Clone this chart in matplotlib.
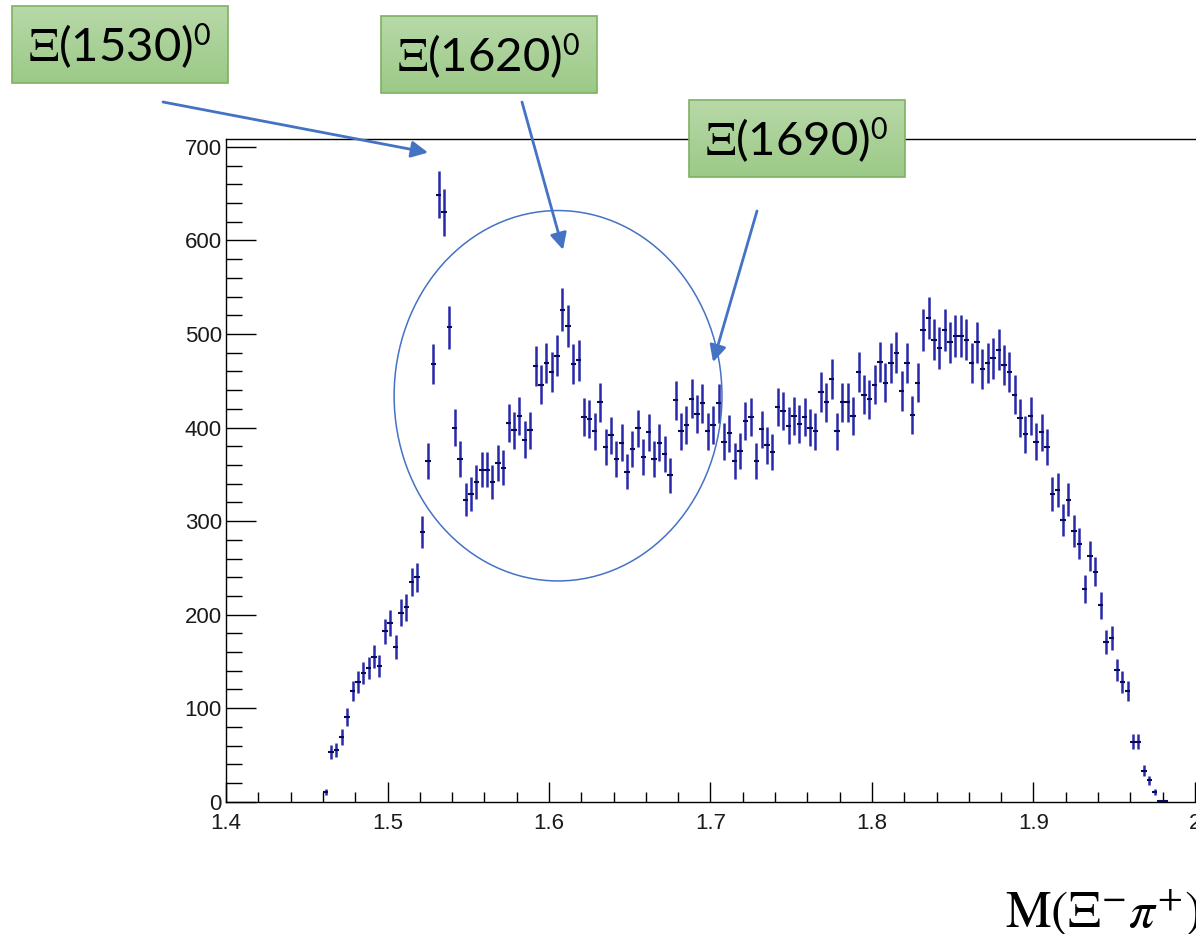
import numpy as np
import matplotlib
matplotlib.use('Agg')
import matplotlib.pyplot as plt
from matplotlib.patches import Rectangle, Ellipse

plt.rcParams['mathtext.fontset'] = 'stix'

# Xi- pi+ invariant mass, 180 bins from 1.4 to 2.0 GeV
mass_lo   = 1.4
mass_hi   = 2.0
n_bins    = 180
first_bin = 18

counts = [
    10, 53, 55, 69, 91, 118, 128, 138, 143, 155,
    145, 182, 191, 165, 202, 208, 235, 240, 288, 364,
    468, 649, 630, 507, 400, 366, 323, 329, 342, 355,
    355, 342, 362, 357, 405, 397, 412, 387, 397, 466,
    446, 469, 459, 477, 526, 509, 468, 472, 411, 409,
    396, 427, 379, 392, 366, 384, 353, 377, 399, 369,
    395, 366, 384, 372, 349, 429, 396, 403, 431, 414,
    426, 396, 403, 426, 385, 394, 364, 375, 407, 411,
    364, 398, 381, 374, 422, 418, 402, 412, 404, 411,
    400, 396, 438, 427, 452, 396, 427, 427, 412, 459,
    435, 430, 446, 470, 448, 469, 480, 439, 469, 413,
    448, 504, 517, 494, 485, 504, 491, 498, 498, 494,
    469, 491, 463, 469, 474, 483, 467, 459, 435, 410,
    393, 412, 385, 395, 379, 329, 333, 301, 323, 289,
    276, 227, 263, 246, 210, 171, 175, 141, 128, 118,
    64, 64, 33, 23, 10, 1, 1,
]

x_ticks = [1.4, 1.5, 1.6, 1.7, 1.8, 1.9, 2.0]
x_tick_labels = ['1.4', '1.5', '1.6', '1.7', '1.8', '1.9', '2']
y_ticks = [0, 100, 200, 300, 400, 500, 600, 700]

# resonance labels: text, box (left, top) in figure pixels, arrow tail, arrow tip (mass, counts)
states = [
    (r'$\Xi$(1530)$^{\mathsf{0}}$', (12, 6),   (163, 102), (1.5251, 694)),
    (r'$\Xi$(1620)$^{\mathsf{0}}$', (381, 16), (522, 102), (1.6087, 590)),
    (r'$\Xi$(1690)$^{\mathsf{0}}$', (689, 100), (757, 211), (1.7016, 470)),
]

W, H = 1196, 934

edges   = np.linspace(mass_lo, mass_hi, n_bins + 1)
centers = 0.5 * (edges[:-1] + edges[1:])
half_w  = 0.5 * (edges[1] - edges[0])

y   = np.array(counts, dtype=float)
x   = centers[first_bin:first_bin + len(y)]
err = np.sqrt(y)

fig = plt.figure(figsize=(W / 100, H / 100), dpi=100)
ax  = fig.add_axes([226 / W, (H - 801.7) / H, (1195 - 226) / W, (801.7 - 139) / H])

ax.errorbar(x, y, yerr=err, fmt='none', ecolor='#2828aa', elinewidth=1.8, capsize=0, zorder=3)
ax.errorbar(x, y, xerr=half_w, fmt='none', ecolor='#0a0a5a', elinewidth=1.5, capsize=0, zorder=4)

ax.set_xlim(mass_lo, mass_hi)
ax.set_ylim(0, 708.5)

ax.set_xticks(x_ticks)
ax.set_xticklabels(x_tick_labels)
ax.set_xticks(np.arange(1.4, 2.0001, 0.02), minor=True)
ax.set_yticks(y_ticks)
ax.set_yticks(np.arange(0, 701, 20), minor=True)

for lab in ax.get_xticklabels() + ax.get_yticklabels():
    lab.set_fontfamily('Liberation Sans')
    lab.set_fontsize(16)
    lab.set_color('#1a1a1a')

ax.tick_params(axis='both', which='both', direction='in', color='black', width=1.0)
ax.tick_params(axis='y', which='major', length=21.5, pad=3)
ax.tick_params(axis='y', which='minor', length=11.5)
ax.tick_params(axis='x', which='major', length=14.5, pad=8)
ax.tick_params(axis='x', which='minor', length=7.5)

ax.spines['right'].set_visible(False)
for s in ['left', 'bottom', 'top']:
    ax.spines[s].set_linewidth(1.0)

# circle round the 1620/1690 region
ax.add_patch(Ellipse((1.6056, 434), 0.203, 396, fill=False, edgecolor='#4472c4',
                     linewidth=1.1, clip_on=False, zorder=5))

for label, box, tail, tip in states:
    ax.annotate('', xy=tip, xycoords='data',
                xytext=(tail[0], H - tail[1]), textcoords='figure pixels',
                annotation_clip=False,
                arrowprops=dict(arrowstyle='-|>', color='#4472c4', lw=2.0,
                                mutation_scale=25, shrinkA=0, shrinkB=0))

# overlay in figure pixels for the label boxes
ov = fig.add_axes([0, 0, 1, 1], zorder=10)
ov.set_xlim(0, W)
ov.set_ylim(H, 0)
ov.axis('off')
ov.patch.set_alpha(0)

grad = np.linspace(0, 1, 64).reshape(-1, 1, 1)
top_c = np.array([0.72, 0.85, 0.66])
bot_c = np.array([0.61, 0.79, 0.53])
grad_img = top_c * (1 - grad) + bot_c * grad

bw, bh = 216, 77
for label, box, tail, tip in states:
    x0, y0 = box
    ov.imshow(grad_img, extent=(x0, x0 + bw, y0 + bh, y0), aspect='auto', zorder=1)
    ov.add_patch(Rectangle((x0, y0), bw, bh, fill=False, edgecolor='#7fb062', linewidth=1.2, zorder=2))
    ov.text(x0 + bw / 2, y0 + bh / 2 + 1, label, ha='center', va='center',
            fontsize=34, family='Lato', color='black', zorder=3)

ov.set_xlim(0, W)
ov.set_ylim(H, 0)

fig.text(1005 / W, 7 / H, r'$\mathrm{M}(\Xi^{-}\pi^{+})$', fontsize=37, ha='left', va='baseline')

fig.savefig('out.png', dpi=100)
